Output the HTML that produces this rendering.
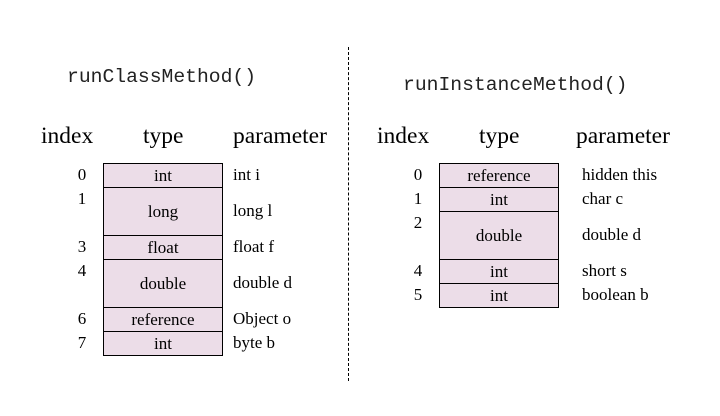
<!DOCTYPE html>
<html><head><style>
body{margin:0;width:720px;height:416px;background:#fff;position:relative;overflow:hidden;font-family:"Liberation Serif",serif;color:#000}
.a{position:absolute;white-space:nowrap}
.code{font-family:"Liberation Mono",monospace;font-size:19.7px;color:#222}
.h{font-size:23.5px;top:123px}
.c{position:absolute;background:#ecdde8;border:1px solid #000;box-sizing:border-box;text-align:center;font-size:17px;display:flex;align-items:center;justify-content:center}
.t{font-size:17px}
.n{font-size:17px;width:20px;text-align:center}
</style></head><body>
<div class="a code" style="left:67px;top:66px">runClassMethod()</div>
<div class="a code" style="left:403px;top:74px">runInstanceMethod()</div>
<div class="a" style="left:348px;top:47px;height:334px;border-left:1px dashed #000"></div>

<div class="a h" style="left:41px">index</div>
<div class="a h" style="left:143px">type</div>
<div class="a h" style="left:233px">parameter</div>
<div class="a h" style="left:377px">index</div>
<div class="a h" style="left:479px">type</div>
<div class="a h" style="left:576px">parameter</div>

<div class="c" style="left:103px;top:163px;width:120px;height:25px">int</div>
<div class="c" style="left:103px;top:187px;width:120px;height:49px">long</div>
<div class="c" style="left:103px;top:235px;width:120px;height:25px">float</div>
<div class="c" style="left:103px;top:259px;width:120px;height:49px">double</div>
<div class="c" style="left:103px;top:307px;width:120px;height:25px">reference</div>
<div class="c" style="left:103px;top:331px;width:120px;height:25px">int</div>

<div class="a n" style="left:72px;top:165px">0</div>
<div class="a n" style="left:72px;top:189px">1</div>
<div class="a n" style="left:72px;top:237px">3</div>
<div class="a n" style="left:72px;top:261px">4</div>
<div class="a n" style="left:72px;top:309px">6</div>
<div class="a n" style="left:72px;top:333px">7</div>

<div class="a t" style="left:233px;top:165px">int i</div>
<div class="a t" style="left:233px;top:201px">long l</div>
<div class="a t" style="left:233px;top:237px">float f</div>
<div class="a t" style="left:233px;top:273px">double d</div>
<div class="a t" style="left:233px;top:309px">Object o</div>
<div class="a t" style="left:233px;top:333px">byte b</div>

<div class="c" style="left:439px;top:163px;width:120px;height:25px">reference</div>
<div class="c" style="left:439px;top:187px;width:120px;height:25px">int</div>
<div class="c" style="left:439px;top:211px;width:120px;height:49px">double</div>
<div class="c" style="left:439px;top:259px;width:120px;height:25px">int</div>
<div class="c" style="left:439px;top:283px;width:120px;height:25px">int</div>

<div class="a n" style="left:408px;top:165px">0</div>
<div class="a n" style="left:408px;top:189px">1</div>
<div class="a n" style="left:408px;top:213px">2</div>
<div class="a n" style="left:408px;top:261px">4</div>
<div class="a n" style="left:408px;top:285px">5</div>

<div class="a t" style="left:582px;top:165px">hidden this</div>
<div class="a t" style="left:582px;top:189px">char c</div>
<div class="a t" style="left:582px;top:225px">double d</div>
<div class="a t" style="left:582px;top:261px">short s</div>
<div class="a t" style="left:582px;top:285px">boolean b</div>
</body></html>
